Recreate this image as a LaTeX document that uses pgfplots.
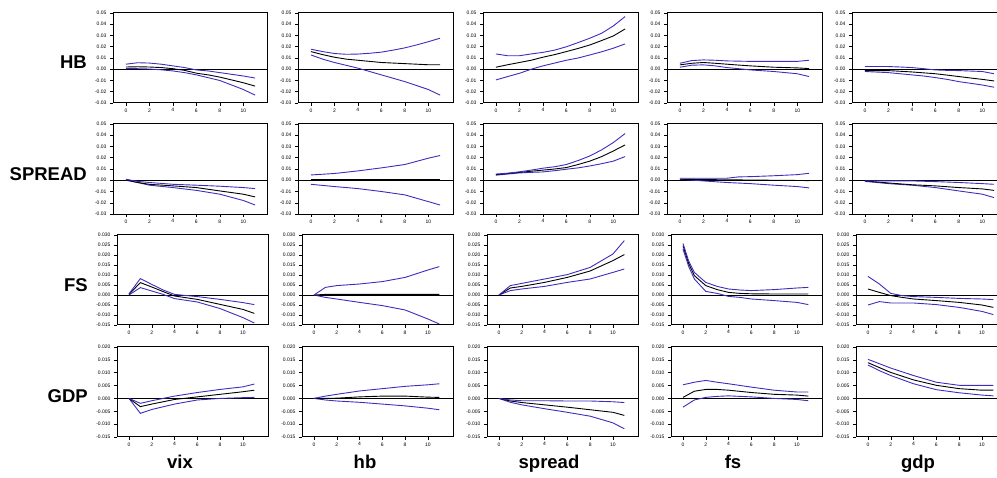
\documentclass[border=0pt]{standalone}
\usepackage{fontspec}
\setmainfont{Liberation Sans}
\usepackage{pgfplots}
\usepackage{pgfplotstable}
\pgfplotsset{compat=1.18}
\definecolor{bandblue}{RGB}{60,45,190}

% x lo mid hi
\pgfplotstableread{
x lo mid hi
0 0.0005 0.002 0.0045
1 0.0005 0.0022 0.0058
2 0.0002 0.002 0.0055
3 -0.0005 0.0015 0.0045
4 -0.0015 0.0005 0.003
5 -0.003 -0.001 0.0015
6 -0.005 -0.0035 -0.0006
7 -0.0075 -0.005 -0.0015
8 -0.010 -0.007 -0.003
9 -0.014 -0.0095 -0.0045
10 -0.018 -0.012 -0.006
11 -0.023 -0.015 -0.0078
}\HBvix
\pgfplotstableread{
x lo mid hi
0 0.0127 0.0157 0.0178
1 0.009 0.013 0.0157
2 0.006 0.0107 0.014
3 0.0035 0.009 0.0133
4 0.001 0.008 0.0135
5 -0.002 0.007 0.0142
6 -0.005 0.006 0.0152
7 -0.008 0.0055 0.017
8 -0.011 0.005 0.019
9 -0.0145 0.0045 0.0216
10 -0.018 0.004 0.0245
11 -0.023 0.004 0.0276
}\HBhb
\pgfplotstableread{
x lo mid hi
0 -0.0095 0.0018 0.0136
1 -0.0065 0.004 0.012
2 -0.0036 0.006 0.012
3 0.0 0.008 0.0136
4 0.003 0.0107 0.015
5 0.0055 0.013 0.017
6 0.008 0.0157 0.020
7 0.010 0.0185 0.0237
8 0.0127 0.0216 0.0276
9 0.0155 0.0255 0.032
10 0.0187 0.0296 0.0385
11 0.0225 0.0358 0.0468
}\HBspread
\pgfplotstableread{
x lo mid hi
0 0.0018 0.0039 0.0053
1 0.0036 0.0053 0.0077
2 0.0039 0.006 0.0083
3 0.003 0.0053 0.008
4 0.0015 0.0045 0.0074
5 0.0005 0.0037 0.0072
6 -0.0006 0.003 0.007
7 -0.0013 0.0024 0.007
8 -0.002 0.0018 0.007
9 -0.003 0.0015 0.007
10 -0.004 0.0012 0.007
11 -0.0065 0.0006 0.008
}\HBfs
\pgfplotstableread{
x lo mid hi
0 -0.002 -0.0012 0.0024
1 -0.0025 -0.0012 0.0024
2 -0.003 -0.0012 0.0024
3 -0.004 -0.0018 0.002
4 -0.005 -0.0024 0.0015
5 -0.006 -0.0032 0.0005
6 -0.0074 -0.004 -0.0006
7 -0.009 -0.0052 -0.001
8 -0.011 -0.0065 -0.0012
9 -0.0125 -0.0078 -0.0016
10 -0.014 -0.009 -0.002
11 -0.016 -0.0104 -0.004
}\HBgdp
\pgfplotstableread{
x lo mid hi
0 0 0.0003 0.0009
1 -0.002 -0.002 -0.001
2 -0.0044 -0.0036 -0.002
4 -0.0065 -0.005 -0.0036
6 -0.009 -0.0065 -0.0044
8 -0.0124 -0.0095 -0.0053
10 -0.018 -0.0124 -0.0065
11 -0.022 -0.0148 -0.0074
}\SPvix
\pgfplotstableread{
x lo mid hi
0 -0.0036 0.0006 0.0047
2 -0.0056 0.0006 0.006
4 -0.0074 0.0006 0.0083
6 -0.010 0.0006 0.011
8 -0.013 0.0006 0.014
10 -0.019 0.0006 0.0196
11 -0.022 0.0006 0.022
}\SPhb
\pgfplotstableread{
x lo mid hi
0 0.0045 0.005 0.0055
1 0.0055 0.006 0.0063
2 0.0065 0.007 0.0075
3 0.007 0.008 0.009
4 0.0074 0.009 0.0107
5 0.0085 0.010 0.012
6 0.0098 0.0113 0.014
7 0.011 0.014 0.0175
8 0.0127 0.017 0.0216
9 0.0147 0.021 0.027
10 0.017 0.026 0.0335
11 0.021 0.0314 0.0415
}\SPspread
\pgfplotstableread{
x lo mid hi
0 0.0009 0.0009 0.0018
2 -0.0006 0.0006 0.0018
4 -0.002 0.0004 0.0018
5 -0.0025 0.0003 0.003
6 -0.003 0.0002 0.0032
8 -0.0044 0.0 0.004
10 -0.0056 -0.0002 0.005
11 -0.0068 -0.0003 0.0062
}\SPfs
\pgfplotstableread{
x lo mid hi
0 -0.001 -0.0006 -0.0006
2 -0.003 -0.0024 -0.0006
4 -0.0044 -0.004 -0.0006
6 -0.0065 -0.005 -0.0012
8 -0.0095 -0.0065 -0.002
10 -0.0124 -0.0077 -0.003
11 -0.0154 -0.009 -0.0036
}\SPgdp
\pgfplotstableread{
x lo mid hi
0 0 0.0003 0.0006
1 0.0037 0.0062 0.0082
2 0.002 0.004 0.0053
3 0.0003 0.0017 0.0025
4 -0.0018 -0.0005 0.0003
6 -0.0035 -0.0022 -0.0008
8 -0.0068 -0.0047 -0.0022
10 -0.0113 -0.0072 -0.0038
11 -0.014 -0.0092 -0.0048
}\FSvix
\pgfplotstableread{
x lo mid hi
0 0 0 0
1 -0.0012 0.0003 0.0038
2 -0.002 0.0003 0.0047
4 -0.0037 0.0003 0.0055
6 -0.0053 0.0003 0.0067
8 -0.0075 0.0003 0.0088
10 -0.012 0.0003 0.0125
11 -0.0145 0.0003 0.0142
}\FShb
\pgfplotstableread{
x lo mid hi
0 0 0 0
1 0.0022 0.0035 0.0047
2 0.003 0.0043 0.0058
4 0.0043 0.0063 0.008
6 0.0063 0.0088 0.0102
8 0.008 0.012 0.0138
10 0.0113 0.0172 0.0205
11 0.013 0.0202 0.0272
}\FSspread
\pgfplotstableread{
x lo mid hi
0 0.023 0.0247 0.0258
0.5 0.0143 0.0158 0.017
1 0.008 0.0097 0.0113
2 0.0018 0.0047 0.0063
3 0.0008 0.0027 0.0043
4 -0.0007 0.0013 0.003
5 -0.0012 0.0008 0.0025
6 -0.002 0.0006 0.0022
8 -0.0028 0.0005 0.0027
10 -0.0037 0.0005 0.0035
11 -0.0048 0.0005 0.0038
}\FSfs
\pgfplotstableread{
x lo mid hi
0 -0.005 0.003 0.0093
1 -0.0033 0.0013 0.0055
2 -0.004 -0.0003 0.0008
3 -0.004 -0.0012 -0.0003
4 -0.004 -0.002 -0.0008
6 -0.0048 -0.0028 -0.0012
8 -0.0062 -0.0037 -0.0017
10 -0.0082 -0.005 -0.002
11 -0.0098 -0.0062 -0.0023
}\FSgdp
\pgfplotstableread{
x lo mid hi
0 0 0 0
1 -0.0058 -0.0032 -0.0019
2 -0.0043 -0.0022 -0.0009
4 -0.0022 -0.0004 0.0009
6 -0.0006 0.0006 0.0023
8 0 0.0016 0.0035
10 0.0003 0.0026 0.0045
11 0.0004 0.0032 0.0056
}\GDvix
\pgfplotstableread{
x lo mid hi
0 0 0 0
1 -0.0006 0.0 0.0009
2 -0.001 0.0001 0.0016
4 -0.0015 0.0006 0.0029
6 -0.0022 0.0009 0.0038
8 -0.0029 0.0009 0.0047
10 -0.0038 0.0005 0.0053
11 -0.0044 0.0004 0.0057
}\GDhb
\pgfplotstableread{
x lo mid hi
0 0 0 0
1 -0.0015 -0.001 -0.0006
2 -0.0025 -0.0016 -0.0009
4 -0.004 -0.0025 -0.0009
6 -0.0054 -0.0034 -0.001
8 -0.0069 -0.0044 -0.001
10 -0.0095 -0.0054 -0.0013
11 -0.0118 -0.0066 -0.0016
}\GDspread
\pgfplotstableread{
x lo mid hi
0 -0.0034 0.0004 0.0053
1 -0.0006 0.0028 0.0063
2 0.0004 0.0035 0.007
3 0.0008 0.0035 0.0063
4 0.001 0.0032 0.0057
6 0.0006 0.0023 0.0044
8 0 0.0016 0.0032
10 -0.0004 0.0013 0.0025
11 -0.0009 0.0009 0.0025
}\GDfs
\pgfplotstableread{
x lo mid hi
0 0.013 0.0139 0.0152
1 0.0108 0.012 0.0135
2 0.0089 0.0101 0.0118
4 0.0057 0.0072 0.0089
6 0.0034 0.0051 0.0063
8 0.0022 0.0038 0.0051
10 0.0013 0.0032 0.0051
11 0.001 0.0032 0.0051
}\GDgdp

\pgfplotsset{
  panel/.style={
    scale only axis, anchor=north west, height=90pt,
    xtick={0,2,4,6,8,10},
    tick pos=left, tick align=outside, major tick length=3pt,
    axis line style={line width=1pt},
    tick style={black, line width=0.5pt},
    ticklabel style={font=\fontsize{5}{5}\selectfont},
    xticklabel style={yshift=1pt},
    /pgf/number format/assume math mode=true,
    scaled y ticks=false,
    every axis plot/.append style={line width=0.9pt, no markers},
  },
  rowA/.style={panel, width=155pt, xmin=-1.1, xmax=12.1,
    ymin=-0.03, ymax=0.05,
    ytick={-0.03,-0.02,-0.01,0,0.01,0.02,0.03,0.04,0.05},
    yticklabel style={/pgf/number format/.cd, fixed, fixed zerofill, precision=2}},
  rowB/.style={panel, width=151pt, xmin=-1.05, xmax=12.2,
    ymin=-0.015, ymax=0.03,
    ytick={-0.015,-0.01,-0.005,0,0.005,0.01,0.015,0.02,0.025,0.03},
    yticklabel style={/pgf/number format/.cd, fixed, fixed zerofill, precision=3}},
  rowC/.style={panel, width=151pt, xmin=-1.05, xmax=12.2,
    ymin=-0.015, ymax=0.02,
    ytick={-0.015,-0.01,-0.005,0,0.005,0.01,0.015,0.02},
    yticklabel style={/pgf/number format/.cd, fixed, fixed zerofill, precision=3}},
}

\newcommand{\panel}[4]{%
  \begin{axis}[#3, at={(#1pt,-#2pt)}]
    \addplot[black, line width=0.9pt, forget plot] coordinates {(-5,0) (15,0)};
    \addplot[bandblue] table[x=x,y=lo] {#4};
    \addplot[black] table[x=x,y=mid] {#4};
    \addplot[bandblue] table[x=x,y=hi] {#4};
  \end{axis}}

\begin{document}
\begin{tikzpicture}
\panel{113}{13}{rowA}{\HBvix}
\panel{298}{13}{rowA}{\HBhb}
\panel{483}{13}{rowA}{\HBspread}
\panel{667}{13}{rowA}{\HBfs}
\panel{852}{13}{rowA}{\HBgdp}

\panel{113}{124}{rowA}{\SPvix}
\panel{298}{124}{rowA}{\SPhb}
\panel{483}{124}{rowA}{\SPspread}
\panel{667}{124}{rowA}{\SPfs}
\panel{852}{124}{rowA}{\SPgdp}

\panel{117}{235}{rowB}{\FSvix}
\panel{302}{235}{rowB}{\FShb}
\panel{487}{235}{rowB}{\FSspread}
\panel{671}{235}{rowB}{\FSfs}
\panel{856}{235}{rowB}{\FSgdp}

\panel{117}{347}{rowC}{\GDvix}
\panel{302}{347}{rowC}{\GDhb}
\panel{487}{347}{rowC}{\GDspread}
\panel{671}{347}{rowC}{\GDfs}
\panel{856}{347}{rowC}{\GDgdp}

\begin{scope}[every node/.style={font=\bfseries\fontsize{18.5}{18.5}\selectfont, inner sep=0pt}]
\node[anchor=base east] at (87pt,-69pt) {HB};
\node[anchor=base east] at (87pt,-181pt) {SPREAD};
\node[anchor=base east] at (88pt,-292pt) {FS};
\node[anchor=base east] at (88pt,-403pt) {GDP};
\node[anchor=base] at (180pt,-469pt) {vix};
\node[anchor=base] at (365pt,-469pt) {hb};
\node[anchor=base] at (549pt,-469pt) {spread};
\node[anchor=base] at (733pt,-469pt) {fs};
\node[anchor=base] at (918pt,-469pt) {gdp};
\end{scope}

\pgfresetboundingbox
\useasboundingbox (0pt,0pt) rectangle (997pt,-478pt);
\end{tikzpicture}
\end{document}
